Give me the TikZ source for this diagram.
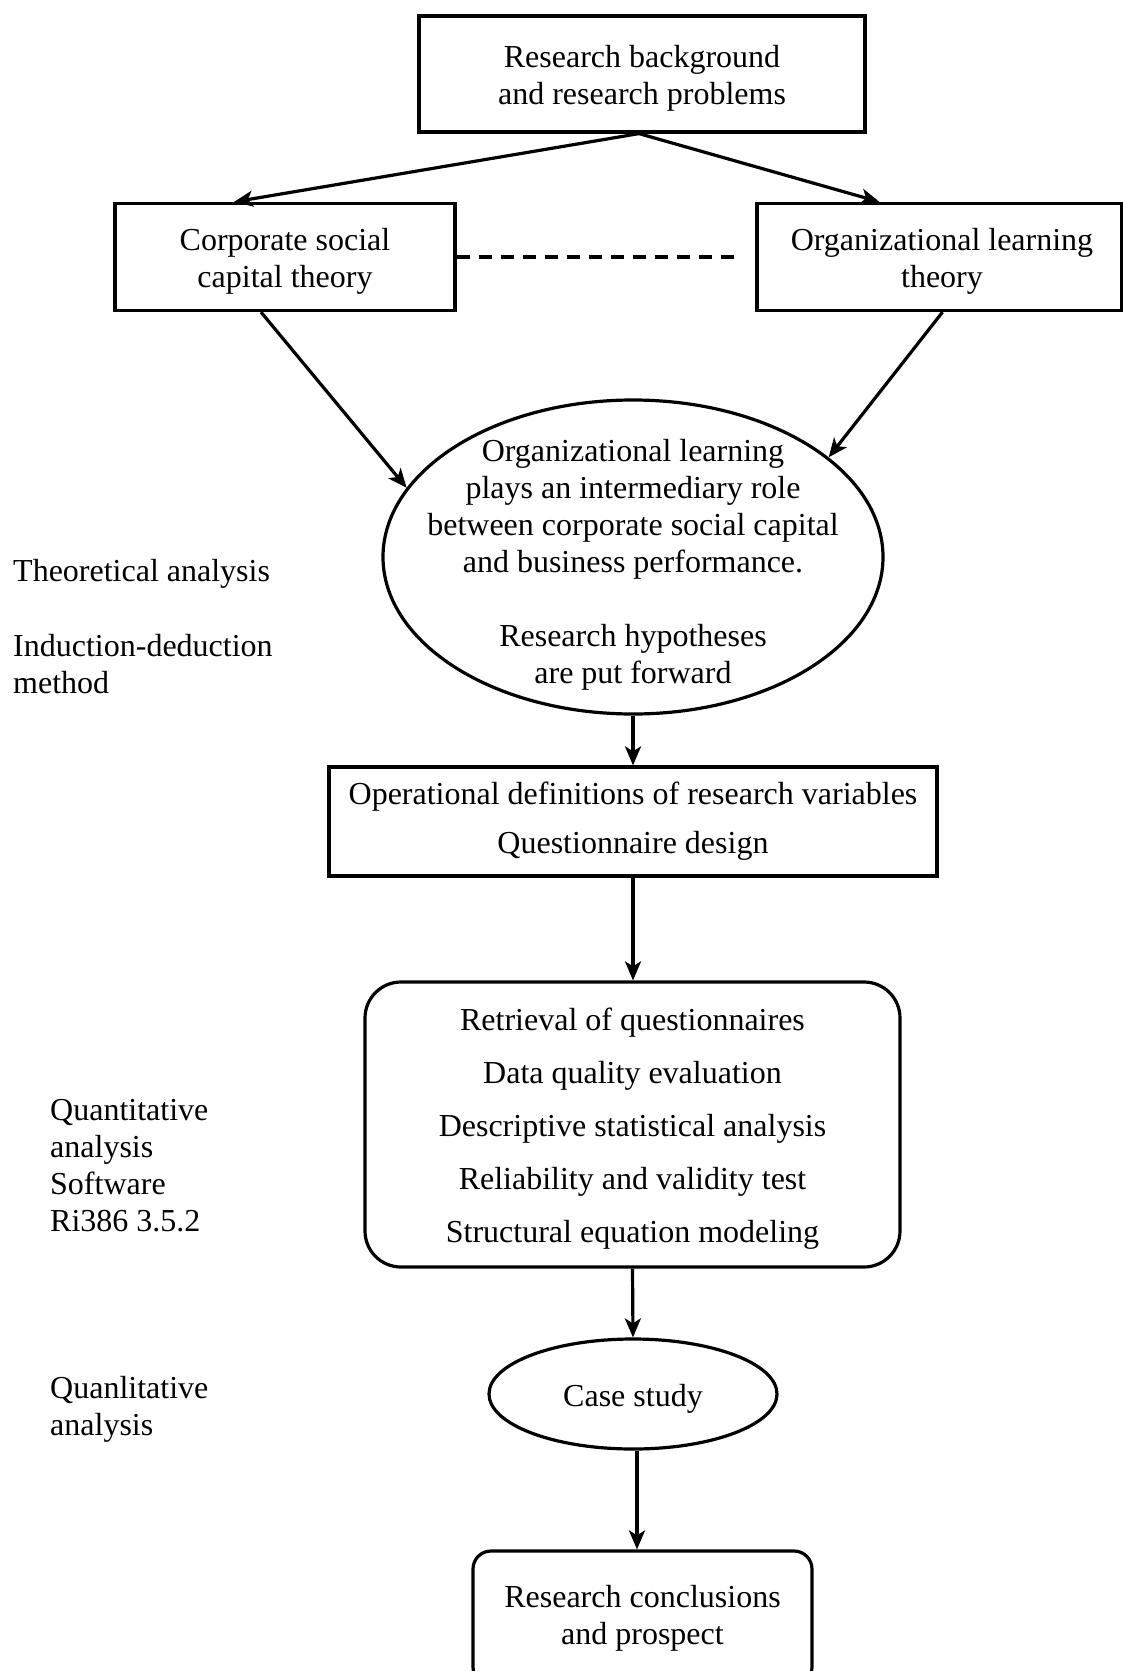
\documentclass[tikz,border=0pt]{standalone}
\usepackage{fontspec}
\setmainfont{Liberation Serif}
\usetikzlibrary{shapes.geometric,arrows.meta,calc}

\begin{document}
\begin{tikzpicture}[x=1pt,y=-1pt,
  every node/.style={font=\fontsize{32}{37}\selectfont, inner sep=0pt},
  boxnode/.style={draw, line width=3.2pt, rectangle, align=center},
  roundnode/.style={boxnode, rounded corners=36pt},
  ovalnode/.style={draw, line width=3.2pt, ellipse, align=center},
  sidelabel/.style={anchor=west, align=left},
  arr/.style={line width=3.2pt, -{Stealth[length=19pt,width=16pt,inset=5pt]}},
  link/.style={line width=3.2pt, dash pattern=on 13pt off 9pt}
]
\useasboundingbox (0,0) rectangle (1123,1671);

% main flow
\node[boxnode, minimum width=446pt, minimum height=116pt] (top) at (642,74) {};
\node[align=center] (toptext) at (642,78) {Research background\\and research problems};
\node[boxnode, minimum width=340pt, minimum height=107pt] (corp) at (285,257) {};
\node[align=center] (corptext) at (285,261) {Corporate social\\capital theory};
\node[boxnode, minimum width=365pt, minimum height=107pt] (org) at (939.5,257) {};
\node[align=center] (orgtext) at (942,261) {Organizational learning\\theory};
\node[ovalnode, minimum width=500pt, minimum height=314pt] (hyp) at (633,557) {};
\node[align=center] (hyptext) at (633,565)
  {Organizational learning\\plays an intermediary role\\between corporate social capital\\and business performance.\\[37pt]Research hypotheses\\are put forward};
\node[boxnode, minimum width=608pt, minimum height=109pt] (ops) at (633,821.5)
  {Operational definitions of research variables\\[12pt]Questionnaire design};
\node[roundnode, minimum width=535pt, minimum height=285pt] (quant) at (632.5,1124.5) {};
\node[align=center] (quanttext) at (632.5,1129)
  {Retrieval of questionnaires\\[16pt]Data quality evaluation\\[16pt]Descriptive statistical analysis\\[16pt]Reliability and validity test\\[16pt]Structural equation modeling};
\node[ovalnode, minimum width=288pt, minimum height=110pt] (case) at (633,1394) {};
\node (casetext) at (633,1399) {Case study};
\node[roundnode, rounded corners=18pt, minimum width=339pt, minimum height=134pt] (final) at (642.5,1618)
  {Research conclusions\\and prospect};

% method labels on the left
\node[sidelabel] (theo) at (13,574) {Theoretical analysis};
\node[sidelabel] (induc) at (13,664) {Induction-deduction\\method};
\node[sidelabel] (quantlbl) at (50,1166) {Quantitative\\analysis\\Software\\Ri386 3.5.2};
\node[sidelabel] (quallbl) at (50,1409) {Quanlitative\\analysis};

% connectors
\draw[arr] ([xshift=-3pt]top.south) -- ([xshift=-51pt]corp.north);
\draw[arr] ([xshift=-3pt]top.south) -- ([xshift=-60pt]org.north);
\draw[link] (corp.east) -- ([xshift=-14pt]org.west);
\draw[arr] ([xshift=-24pt]corp.south) -- (hyp.163);
\draw[arr] ([xshift=3pt]org.south) -- (hyp.27);
\draw[arr] (hyp.south) -- (ops.north);
\draw[arr] (ops.south) -- (ops.south |- quant.north);
\draw[arr] (quant.south) -- (case.north);
\draw[arr] ([xshift=4pt]case.south) -- ([xshift=4pt]case.south |- final.north);
\end{tikzpicture}
\end{document}
